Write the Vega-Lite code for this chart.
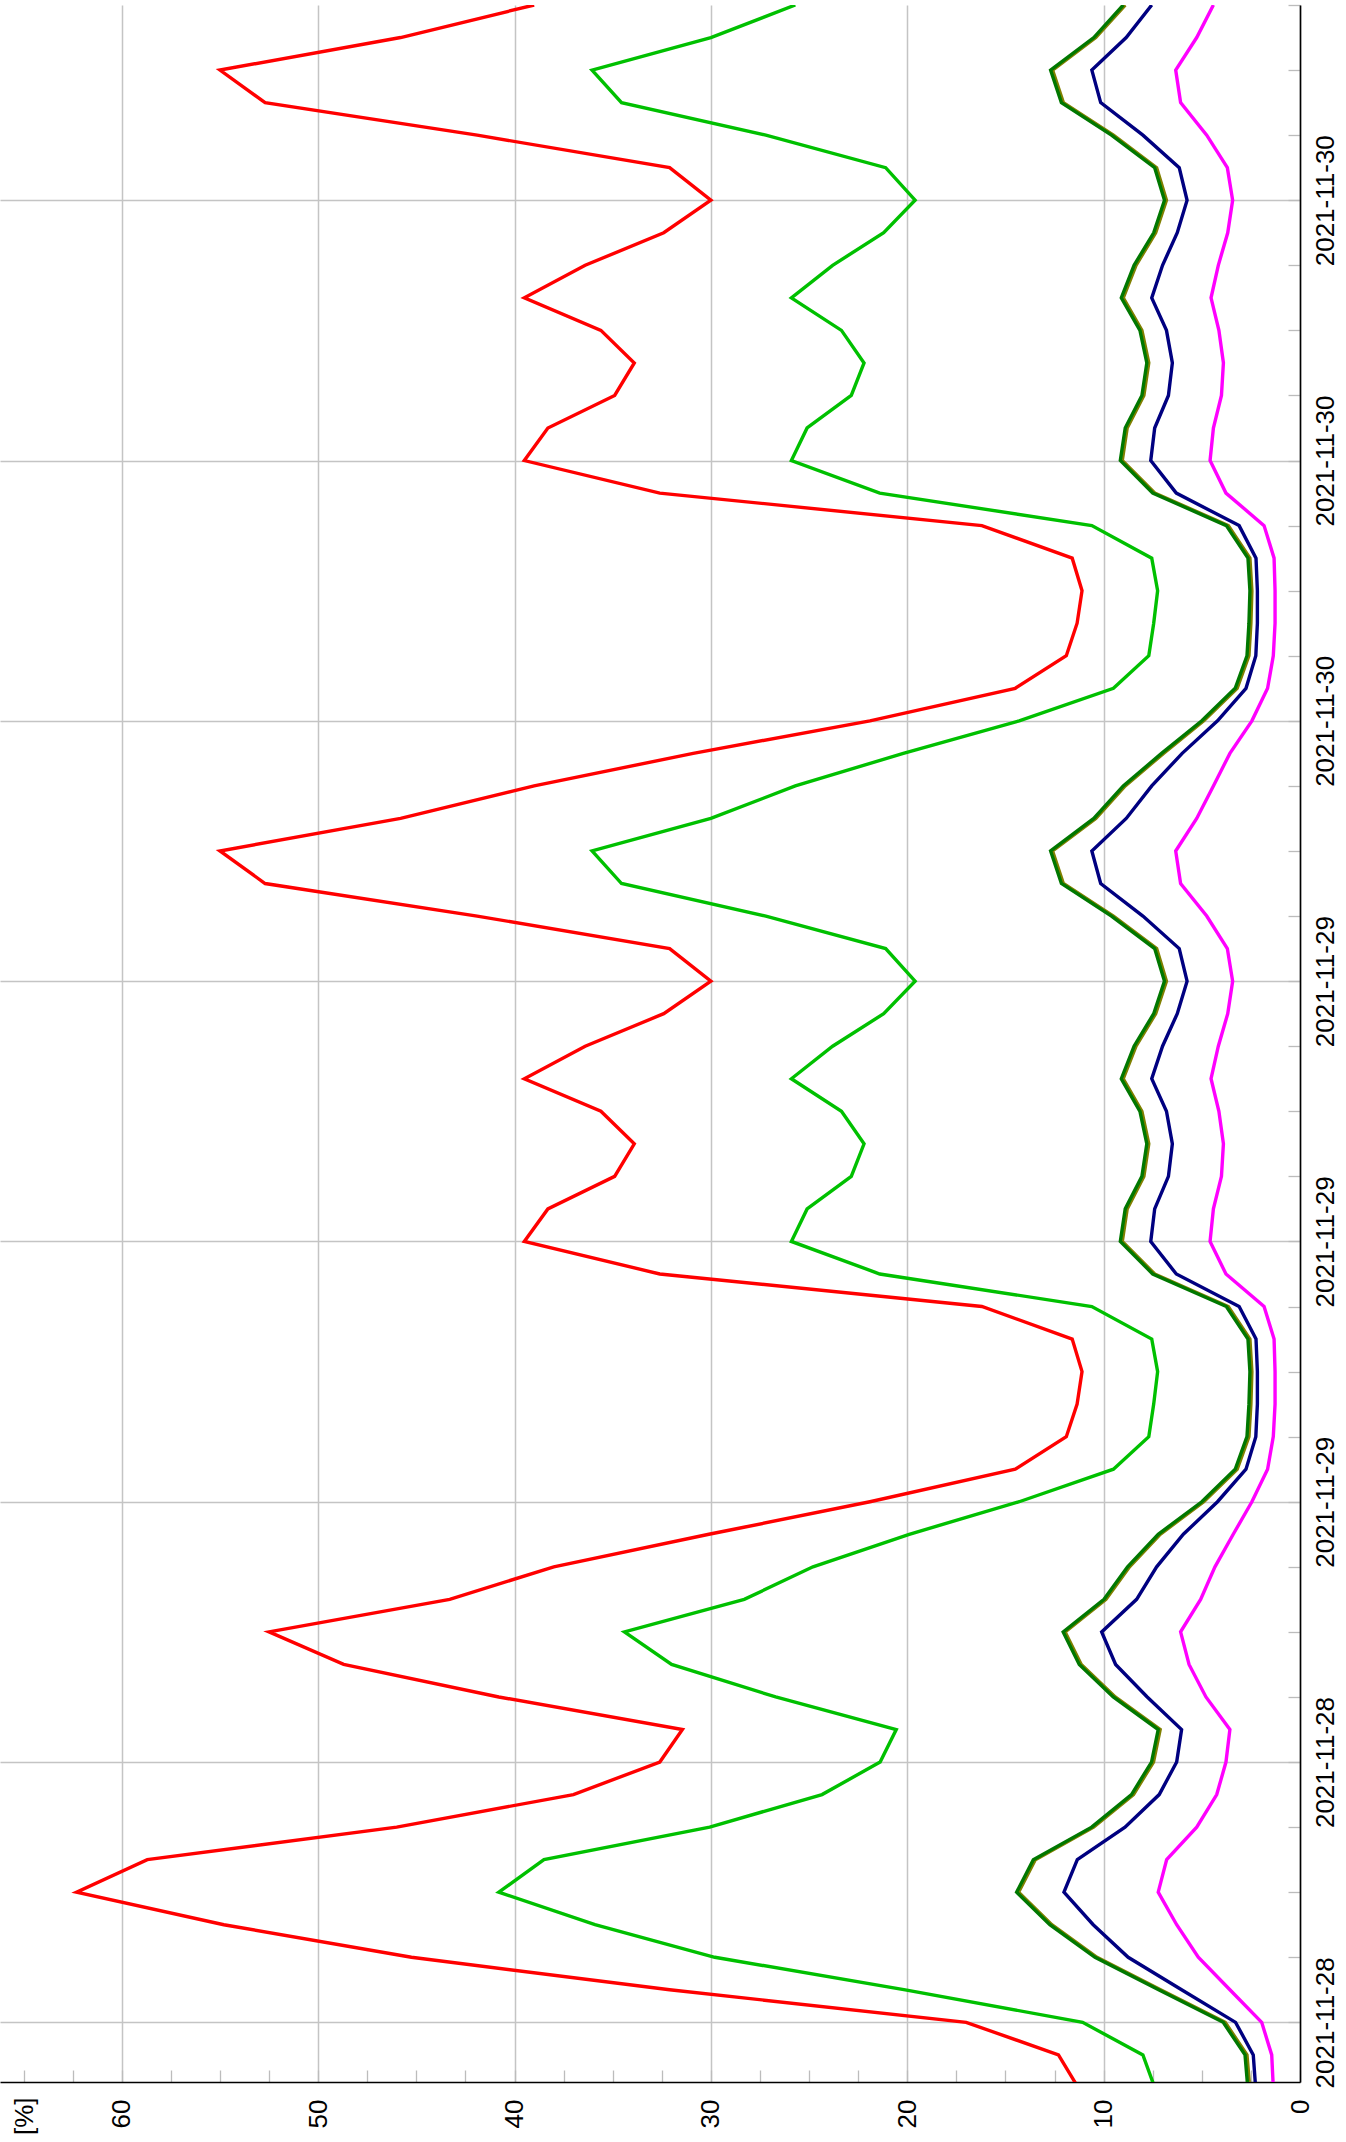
{
  "$schema": "https://vega.github.io/schema/vega-lite/v6.json",
  "width": 1300,
  "height": 2077,
  "autosize": {"type": "none"},
  "padding": {"left": 0, "top": 5, "right": 46, "bottom": 60},
  "background": "white",
  "config": {"view": {"stroke": null}, "font": "Liberation Sans"},
  "data": {"values": [
    {"t":"2021-11-28T06:00","r":11.3,"g":7.4,"o":2.56,"d":2.66,"n":2.26,"m":1.36},
    {"t":"2021-11-28T07:00","r":12.3,"g":8.0,"o":2.7,"d":2.8,"n":2.38,"m":1.44},
    {"t":"2021-11-28T08:00","r":17.0,"g":11.07,"o":3.81,"d":3.91,"n":3.28,"m":1.95},
    {"t":"2021-11-28T09:00","r":32.1,"g":20.1,"o":7.1,"d":7.2,"n":6.03,"m":3.57},
    {"t":"2021-11-28T10:00","r":45.25,"g":29.8,"o":10.34,"d":10.44,"n":8.75,"m":5.18},
    {"t":"2021-11-28T11:00","r":54.8,"g":35.9,"o":12.64,"d":12.74,"n":10.53,"m":6.28},
    {"t":"2021-11-28T12:00","r":62.3,"g":40.8,"o":14.33,"d":14.43,"n":12.02,"m":7.22},
    {"t":"2021-11-28T13:00","r":58.7,"g":38.5,"o":13.48,"d":13.58,"n":11.34,"m":6.79},
    {"t":"2021-11-28T14:00","r":46.0,"g":30.06,"o":10.51,"d":10.61,"n":8.91,"m":5.26},
    {"t":"2021-11-28T15:00","r":37.0,"g":24.34,"o":8.48,"d":8.58,"n":7.17,"m":4.24},
    {"t":"2021-11-28T16:00","r":32.6,"g":21.38,"o":7.46,"d":7.56,"n":6.28,"m":3.77},
    {"t":"2021-11-28T17:00","r":31.45,"g":20.56,"o":7.12,"d":7.22,"n":6.03,"m":3.57},
    {"t":"2021-11-28T18:00","r":40.8,"g":26.7,"o":9.41,"d":9.51,"n":7.78,"m":4.79},
    {"t":"2021-11-28T19:00","r":48.7,"g":32.0,"o":11.14,"d":11.24,"n":9.39,"m":5.65},
    {"t":"2021-11-28T20:00","r":52.5,"g":34.4,"o":11.96,"d":12.06,"n":10.1,"m":6.08},
    {"t":"2021-11-28T21:00","r":43.3,"g":28.3,"o":9.88,"d":9.98,"n":8.32,"m":5.06},
    {"t":"2021-11-28T22:00","r":38.0,"g":24.8,"o":8.68,"d":8.78,"n":7.3,"m":4.33},
    {"t":"2021-11-28T23:00","r":30.1,"g":19.9,"o":7.12,"d":7.22,"n":5.94,"m":3.4},
    {"t":"2021-11-29T00:00","r":21.9,"g":14.3,"o":4.9,"d":5.0,"n":4.2,"m":2.45},
    {"t":"2021-11-29T01:00","r":14.5,"g":9.5,"o":3.2,"d":3.3,"n":2.75,"m":1.65},
    {"t":"2021-11-29T02:00","r":11.9,"g":7.7,"o":2.6,"d":2.7,"n":2.25,"m":1.36},
    {"t":"2021-11-29T03:00","r":11.35,"g":7.45,"o":2.5,"d":2.6,"n":2.17,"m":1.27},
    {"t":"2021-11-29T04:00","r":11.1,"g":7.25,"o":2.45,"d":2.55,"n":2.17,"m":1.27},
    {"t":"2021-11-29T05:00","r":11.6,"g":7.55,"o":2.55,"d":2.65,"n":2.24,"m":1.32},
    {"t":"2021-11-29T06:00","r":16.2,"g":10.6,"o":3.65,"d":3.75,"n":3.1,"m":1.83},
    {"t":"2021-11-29T07:00","r":32.6,"g":21.4,"o":7.4,"d":7.5,"n":6.3,"m":3.77},
    {"t":"2021-11-29T08:00","r":39.5,"g":25.9,"o":9.05,"d":9.15,"n":7.6,"m":4.58},
    {"t":"2021-11-29T09:00","r":38.3,"g":25.1,"o":8.8,"d":8.9,"n":7.4,"m":4.41},
    {"t":"2021-11-29T10:00","r":34.9,"g":22.85,"o":7.95,"d":8.05,"n":6.7,"m":4.0},
    {"t":"2021-11-29T11:00","r":33.9,"g":22.2,"o":7.7,"d":7.8,"n":6.5,"m":3.9},
    {"t":"2021-11-29T12:00","r":35.6,"g":23.35,"o":8.05,"d":8.15,"n":6.8,"m":4.13},
    {"t":"2021-11-29T13:00","r":39.5,"g":25.9,"o":9.0,"d":9.1,"n":7.55,"m":4.53},
    {"t":"2021-11-29T14:00","r":36.4,"g":23.8,"o":8.35,"d":8.45,"n":7.0,"m":4.16},
    {"t":"2021-11-29T15:00","r":32.4,"g":21.2,"o":7.35,"d":7.45,"n":6.25,"m":3.68},
    {"t":"2021-11-29T16:00","r":30.0,"g":19.6,"o":6.8,"d":6.9,"n":5.75,"m":3.43},
    {"t":"2021-11-29T17:00","r":32.1,"g":21.1,"o":7.3,"d":7.4,"n":6.15,"m":3.7},
    {"t":"2021-11-29T18:00","r":41.9,"g":27.2,"o":9.5,"d":9.6,"n":8.0,"m":4.75},
    {"t":"2021-11-29T19:00","r":52.7,"g":34.55,"o":12.05,"d":12.15,"n":10.15,"m":6.08},
    {"t":"2021-11-29T20:00","r":55.0,"g":36.05,"o":12.6,"d":12.7,"n":10.6,"m":6.33},
    {"t":"2021-11-29T21:00","r":45.8,"g":30.0,"o":10.4,"d":10.5,"n":8.85,"m":5.26},
    {"t":"2021-11-29T22:00","r":39.0,"g":25.7,"o":8.9,"d":9.0,"n":7.55,"m":4.41},
    {"t":"2021-11-29T23:00","r":30.9,"g":20.2,"o":6.95,"d":7.05,"n":6.0,"m":3.57},
    {"t":"2021-11-30T00:00","r":21.9,"g":14.3,"o":4.9,"d":5.0,"n":4.2,"m":2.45},
    {"t":"2021-11-30T01:00","r":14.5,"g":9.5,"o":3.2,"d":3.3,"n":2.75,"m":1.65},
    {"t":"2021-11-30T02:00","r":11.9,"g":7.7,"o":2.6,"d":2.7,"n":2.25,"m":1.36},
    {"t":"2021-11-30T03:00","r":11.35,"g":7.45,"o":2.5,"d":2.6,"n":2.17,"m":1.27},
    {"t":"2021-11-30T04:00","r":11.1,"g":7.25,"o":2.45,"d":2.55,"n":2.17,"m":1.27},
    {"t":"2021-11-30T05:00","r":11.6,"g":7.55,"o":2.55,"d":2.65,"n":2.24,"m":1.32},
    {"t":"2021-11-30T06:00","r":16.2,"g":10.6,"o":3.65,"d":3.75,"n":3.1,"m":1.83},
    {"t":"2021-11-30T07:00","r":32.6,"g":21.4,"o":7.4,"d":7.5,"n":6.3,"m":3.77},
    {"t":"2021-11-30T08:00","r":39.5,"g":25.9,"o":9.05,"d":9.15,"n":7.6,"m":4.58},
    {"t":"2021-11-30T09:00","r":38.3,"g":25.1,"o":8.8,"d":8.9,"n":7.4,"m":4.41},
    {"t":"2021-11-30T10:00","r":34.9,"g":22.85,"o":7.95,"d":8.05,"n":6.7,"m":4.0},
    {"t":"2021-11-30T11:00","r":33.9,"g":22.2,"o":7.7,"d":7.8,"n":6.5,"m":3.9},
    {"t":"2021-11-30T12:00","r":35.6,"g":23.35,"o":8.05,"d":8.15,"n":6.8,"m":4.13},
    {"t":"2021-11-30T13:00","r":39.5,"g":25.9,"o":9.0,"d":9.1,"n":7.55,"m":4.53},
    {"t":"2021-11-30T14:00","r":36.4,"g":23.8,"o":8.35,"d":8.45,"n":7.0,"m":4.16},
    {"t":"2021-11-30T15:00","r":32.4,"g":21.2,"o":7.35,"d":7.45,"n":6.25,"m":3.68},
    {"t":"2021-11-30T16:00","r":30.0,"g":19.6,"o":6.8,"d":6.9,"n":5.75,"m":3.43},
    {"t":"2021-11-30T17:00","r":32.1,"g":21.1,"o":7.3,"d":7.4,"n":6.15,"m":3.7},
    {"t":"2021-11-30T18:00","r":41.9,"g":27.2,"o":9.5,"d":9.6,"n":8.0,"m":4.75},
    {"t":"2021-11-30T19:00","r":52.7,"g":34.55,"o":12.05,"d":12.15,"n":10.15,"m":6.08},
    {"t":"2021-11-30T20:00","r":55.0,"g":36.05,"o":12.6,"d":12.7,"n":10.6,"m":6.33},
    {"t":"2021-11-30T21:00","r":45.8,"g":30.0,"o":10.4,"d":10.5,"n":8.85,"m":5.26},
    {"t":"2021-11-30T22:00","r":39.0,"g":25.7,"o":8.9,"d":9.0,"n":7.55,"m":4.41}
  ], "format": {"parse": {"t": "date:'%Y-%m-%dT%H:%M'"}}},
  "transform": [{"fold": ["m", "n", "o", "d", "g", "r"], "as": ["s", "v"]}],
  "encoding": {
    "y": {
      "field": "t", "type": "temporal",
      "scale": {"domain": [{"year": 2021, "month": 11, "date": 28, "hours": 6, "minutes": 10}, {"year": 2021, "month": 11, "date": 30, "hours": 22}], "nice": false},
      "axis": {
        "orient": "right",
        "values": [
          {"year":2021,"month":11,"date":28,"hours":8},{"year":2021,"month":11,"date":28,"hours":10},{"year":2021,"month":11,"date":28,"hours":12},{"year":2021,"month":11,"date":28,"hours":14},{"year":2021,"month":11,"date":28,"hours":16},{"year":2021,"month":11,"date":28,"hours":18},{"year":2021,"month":11,"date":28,"hours":20},{"year":2021,"month":11,"date":28,"hours":22},
          {"year":2021,"month":11,"date":29,"hours":0},{"year":2021,"month":11,"date":29,"hours":2},{"year":2021,"month":11,"date":29,"hours":4},{"year":2021,"month":11,"date":29,"hours":6},{"year":2021,"month":11,"date":29,"hours":8},{"year":2021,"month":11,"date":29,"hours":10},{"year":2021,"month":11,"date":29,"hours":12},{"year":2021,"month":11,"date":29,"hours":14},{"year":2021,"month":11,"date":29,"hours":16},{"year":2021,"month":11,"date":29,"hours":18},{"year":2021,"month":11,"date":29,"hours":20},{"year":2021,"month":11,"date":29,"hours":22},
          {"year":2021,"month":11,"date":30,"hours":0},{"year":2021,"month":11,"date":30,"hours":2},{"year":2021,"month":11,"date":30,"hours":4},{"year":2021,"month":11,"date":30,"hours":6},{"year":2021,"month":11,"date":30,"hours":8},{"year":2021,"month":11,"date":30,"hours":10},{"year":2021,"month":11,"date":30,"hours":12},{"year":2021,"month":11,"date":30,"hours":14},{"year":2021,"month":11,"date":30,"hours":16},{"year":2021,"month":11,"date":30,"hours":18},{"year":2021,"month":11,"date":30,"hours":20},{"year":2021,"month":11,"date":30,"hours":22}
        ],
        "labelExpr": "hours(datum.value) % 8 == 0 ? timeFormat(datum.value, '%Y-%m-%d') : ''",
        "grid": true, "gridColor": "#c4c4c4", "gridWidth": 1.5,
        "gridOpacity": {"condition": {"test": "hours(datum.value) % 8 == 0", "value": 1}, "value": 0},
        "ticks": true, "tickSize": -12, "tickColor": "#bcbcbc", "tickWidth": 1.3,
        "domain": true, "domainColor": "#000000", "domainWidth": 1.6,
        "labelAngle": 270, "labelAlign": "center", "labelBaseline": "top",
        "labelPadding": 24, "labelFontSize": 26, "labelColor": "#000000", "labelFont": "Liberation Sans",
        "labelFlush": false, "labelOverlap": false, "labelBound": false,
        "title": null
      }
    },
    "x": {
      "field": "v", "type": "quantitative",
      "scale": {"domain": [0, 66.2], "reverse": true, "nice": false, "zero": false},
      "axis": {
        "orient": "bottom",
        "values": [0,2.5,5,7.5,10,12.5,15,17.5,20,22.5,25,27.5,30,32.5,35,37.5,40,42.5,45,47.5,50,52.5,55,57.5,60,62.5,65],
        "labelExpr": "datum.value % 10 == 0 ? format(datum.value, 'd') : ''",
        "grid": true, "gridColor": "#c4c4c4", "gridWidth": 1.5,
        "gridOpacity": {"condition": {"test": "datum.value % 10 == 0", "value": 1}, "value": 0},
        "ticks": true, "tickSize": -12, "tickColor": "#bcbcbc", "tickWidth": 1.3,
        "domain": true, "domainColor": "#000000", "domainWidth": 1.6,
        "labelAngle": 270, "labelAlign": "right", "labelBaseline": "middle",
        "labelPadding": 29, "labelFontSize": 26, "labelColor": "#000000", "labelFont": "Liberation Sans",
        "labelFlush": false, "labelOverlap": false, "labelBound": false,
        "title": "[%]", "titleAngle": 270, "titleAlign": "right", "titleBaseline": "middle",
        "titleX": 24, "titleY": 15, "titleFontSize": 26, "titleFontWeight": "normal",
        "titleColor": "#000000", "titleFont": "Liberation Sans"
      }
    },
    "order": {"field": "t", "type": "temporal"}
  },
  "layer": [
    {"transform": [{"filter": "datum.s == 'm'"}], "mark": {"type": "line", "color": "#ff00ff", "strokeWidth": 3.4, "clip": true}},
    {"transform": [{"filter": "datum.s == 'n'"}], "mark": {"type": "line", "color": "#000080", "strokeWidth": 3.4, "clip": true}},
    {"transform": [{"filter": "datum.s == 'o'"}], "mark": {"type": "line", "color": "#808000", "strokeWidth": 3.4, "clip": true}},
    {"transform": [{"filter": "datum.s == 'd'"}], "mark": {"type": "line", "color": "#007800", "strokeWidth": 3.4, "clip": true}},
    {"transform": [{"filter": "datum.s == 'g'"}], "mark": {"type": "line", "color": "#00c000", "strokeWidth": 3.4, "clip": true}},
    {"transform": [{"filter": "datum.s == 'r'"}], "mark": {"type": "line", "color": "#ff0000", "strokeWidth": 3.4, "clip": true}}
  ]
}
